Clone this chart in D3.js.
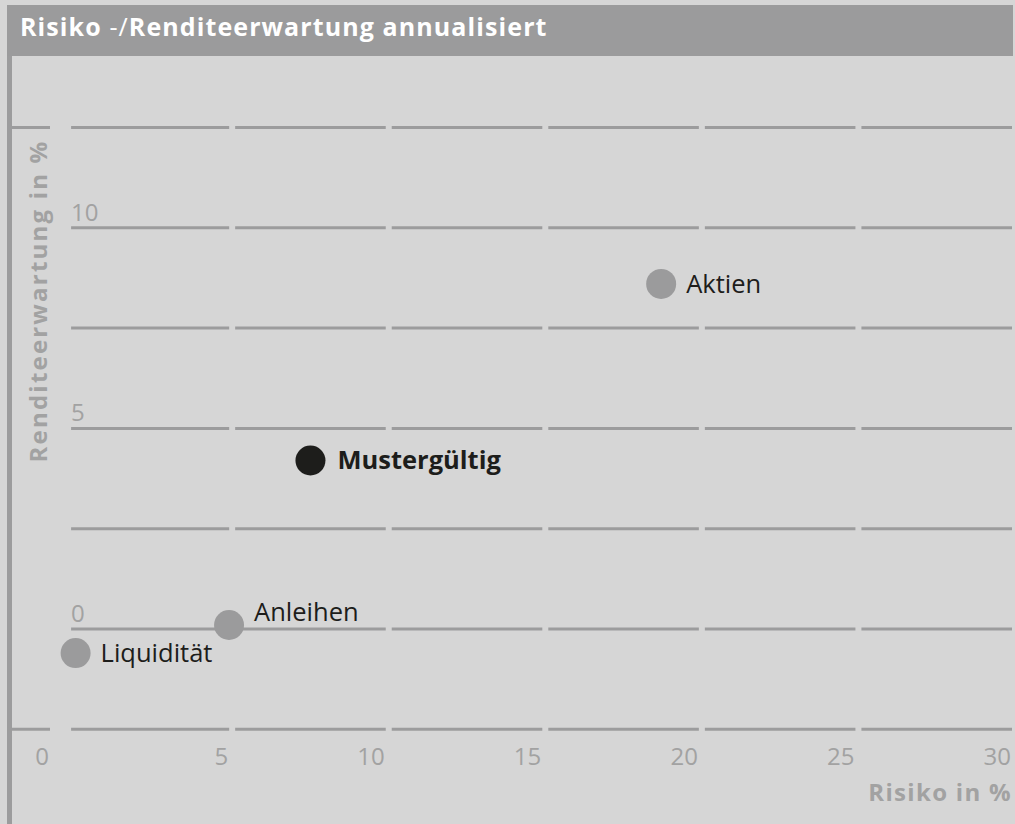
<!DOCTYPE html>
<html>
<head>
<meta charset="utf-8">
<script src="https://cdn.jsdelivr.net/npm/d3@7"></script>
<style>
  html, body { margin: 0; padding: 0; background: #d6d6d6; }
  svg { display: block; font-family: "Open Sans", "Noto Sans", sans-serif; }
</style>
</head>
<body>
<div id="chart"></div>
<script>
// Daten
const names = ["Liquidität", "Anleihen", "Mustergültig", "Aktien"];
const risk = [0.0, 4.9, 7.5, 18.7];        // Risiko in %
const returns = [-0.6, 0.1, 4.2, 8.6];     // Renditeerwartung in %
const highlighted = ["Mustergültig"];

const xTicks = [0, 5, 10, 15, 20, 25, 30];
const yGrid = [-2.5, 0, 2.5, 5, 7.5, 10, 12.5];
const yTickLabels = [0, 5, 10];

const width = 1015, height = 824;
const gray = "#9c9c9d";
const textGray = "#a2a2a2";

const svg = d3.select("#chart").append("svg")
    .attr("width", width)
    .attr("height", height);

svg.append("rect").attr("width", width).attr("height", height).attr("fill", "#d6d6d6");

// Titelleiste
svg.append("rect")
    .attr("x", 7).attr("y", 5)
    .attr("width", 1006).attr("height", 51)
    .attr("fill", "#9b9b9c");

const title = svg.append("text")
    .attr("x", 20).attr("y", 36)
    .attr("fill", "#fff")
    .style("font-size", "25px")
    .style("letter-spacing", "1.1px");
title.append("tspan").attr("font-weight", "bold").text("Risiko ");
title.append("tspan").attr("font-weight", "normal").text("-/");
title.append("tspan").attr("font-weight", "bold").text("Renditeerwartung annualisiert");

// linker Rahmen
svg.append("rect")
    .attr("x", 7).attr("y", 56)
    .attr("width", 5).attr("height", height - 56)
    .attr("fill", gray);

const x = d3.scaleLinear().domain([0, 30]).range([75.6, 1015]);
const y = d3.scaleLinear().domain([-2.5, 12.5]).range([729.3, 127.5]);

// Gitterlinien in Abschnitten zwischen den x-Ticks
const segments = [];
yGrid.forEach((v, j) => {
    for (let i = 0; i < xTicks.length - 1; i++) {
        segments.push({
            y: y(v),
            x1: i === 0 ? x(xTicks[0]) - 4.5 : x(xTicks[i]) + 3,
            x2: x(xTicks[i + 1]) - 3
        });
    }
    // oberste und unterste Linie reichen bis an den Rahmen
    if (j === 0 || j === yGrid.length - 1) {
        segments.push({ y: y(v), x1: 7, x2: 50 });
    }
});

svg.append("g")
    .selectAll("line")
    .data(segments)
    .join("line")
    .attr("x1", d => d.x1)
    .attr("x2", d => d.x2)
    .attr("y1", d => d.y)
    .attr("y2", d => d.y)
    .attr("stroke", gray)
    .attr("stroke-width", 3);

// y-Beschriftung
svg.append("g")
    .selectAll("text")
    .data(yTickLabels)
    .join("text")
    .attr("x", x(0) - 4.5)
    .attr("y", d => y(d) - 7)
    .attr("fill", textGray)
    .style("font-size", "24px")
    .text(d => d);

// x-Beschriftung (rechtsbündig am Ende des Abschnitts)
svg.append("g")
    .selectAll("text")
    .data(xTicks)
    .join("text")
    .attr("x", d => d === 0 ? 49 : x(d) - 4)
    .attr("y", 765)
    .attr("text-anchor", "end")
    .attr("fill", textGray)
    .style("font-size", "24px")
    .text(d => d);

// Achsentitel
svg.append("text")
    .attr("transform", "translate(47,301) rotate(-90)")
    .attr("text-anchor", "middle")
    .attr("fill", textGray)
    .attr("font-weight", "bold")
    .style("font-size", "24px")
    .style("letter-spacing", "2.2px")
    .text("Renditeerwartung in %");

svg.append("text")
    .attr("x", 1012).attr("y", 801)
    .attr("text-anchor", "end")
    .attr("fill", textGray)
    .attr("font-weight", "bold")
    .style("font-size", "24px")
    .style("letter-spacing", "1.3px")
    .text("Risiko in %");

// Punkte
const points = names.map((n, i) => ({ name: n, risk: risk[i], ret: returns[i], hi: highlighted.includes(n) }));

const pt = svg.append("g")
    .selectAll("g")
    .data(points)
    .join("g")
    .attr("transform", d => `translate(${x(d.risk)},${y(d.ret)})`);

pt.append("circle")
    .attr("r", 15)
    .attr("fill", d => d.hi ? "#1d1d1b" : "#9b9b9c");

// Beschriftung: Punkte direkt auf einer Gitterlinie bekommen das Label darüber
pt.append("text")
    .attr("x", d => d.hi ? 27 : 25)
    .attr("y", d => yGrid.some(g => Math.abs(g - d.ret) < 0.3) ? -4 : 9)
    .attr("fill", "#1d1d1b")
    .attr("font-weight", d => d.hi ? "bold" : "normal")
    .style("font-size", "25.5px")
    .text(d => d.name);
</script>
</body>
</html>
